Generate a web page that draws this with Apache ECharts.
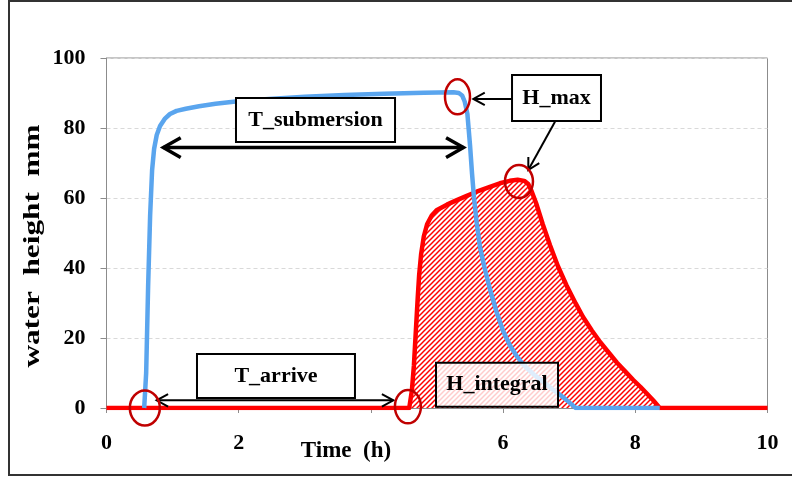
<!DOCTYPE html>
<html><head><meta charset="utf-8">
<script src="https://cdn.jsdelivr.net/npm/echarts@6/dist/echarts.min.js"></script>
<style>html,body{margin:0;padding:0;background:#fff}#c{width:792px;height:477px}</style>
</head><body><div id="c"></div>
<script>
// ---- data ----
const xTicks = [0, 2, 4, 6, 8, 10];
const yTicks = [0, 20, 40, 60, 80, 100];
const blueTime = [0.57,0.60,0.63,0.66,0.69,0.72,0.76,0.81,0.88,0.96,1.06,1.2,1.4,1.65,1.92,2.4,3.0,3.6,4.2,4.8,5.25,5.33,5.38,5.42,5.46,5.50,5.53,5.56,5.60,5.65,5.72,5.80,5.90,6.0,6.1,6.2,6.3,6.45,6.6,6.75,6.9,7.0,7.1,8.37];
const blueHeight = [0,10,35,55,68,74,78,80.6,82.6,84,84.9,85.5,86.2,86.9,87.5,88.2,88.9,89.4,89.8,90.1,90.2,90.0,89.3,87.5,84,75,67,60,53,46,40,34,27.5,22,18,15,12.5,9.8,7.6,5.3,3.2,1.6,0,0];
const redTime = [0,4.58,4.62,4.65,4.68,4.71,4.73,4.76,4.80,4.85,4.92,5.0,5.15,5.3,5.45,5.6,5.8,5.95,6.1,6.22,6.32,6.38,6.43,6.5,6.6,6.71,6.83,6.96,7.1,7.21,7.34,7.47,7.6,7.72,7.85,7.97,8.08,8.17,8.27,8.37,10];
const redHeight = [0,0,5,12,22,32,38,44,49,52.5,55,56.6,58.1,59.4,60.6,61.8,63.2,64.2,64.9,65.2,64.9,64,62,58.5,52.5,46.5,40.5,35,29.8,26,22.2,18.8,15.8,13,10.4,8,6,4.2,2.2,0,0];
const labels = ['T_submersion', 'H_max', 'T_arrive', 'H_integral'];

const FONT = "'Liberation Serif', 'Times New Roman', serif";
const chart = echarts.init(document.getElementById('c'), null, {renderer: 'canvas'});

// hatch pattern: red diagonal stripes on white
const T = 5;
const pc = document.createElement('canvas'); pc.width = T; pc.height = T;
const g = pc.getContext('2d');
g.fillStyle = '#ffffff'; g.fillRect(0, 0, T, T);
g.strokeStyle = '#ff0000'; g.lineWidth = 1.5;
g.beginPath();
g.moveTo(0, T); g.lineTo(T, 0);
g.moveTo(-2, 2); g.lineTo(2, -2);
g.moveTo(T - 2, T + 2); g.lineTo(T + 2, T - 2);
g.stroke();

const zip = (a, b) => a.map((v, i) => [v, b[i]]);

chart.setOption({
  animation: false,
  backgroundColor: '#fff',
  grid: {left: 106.5, right: 24.5, top: 58, bottom: 69, show: true, borderColor: '#8c8c8c', borderWidth: 1},
  xAxis: {
    type: 'value', min: xTicks[0], max: xTicks[xTicks.length - 1], interval: 2,
    axisLine: {show: true, lineStyle: {color: '#8c8c8c'}},
    axisTick: {show: true, length: 5, lineStyle: {color: '#8c8c8c'}},
    axisLabel: {margin: 24, color: '#000', fontFamily: FONT, fontWeight: 'bold', fontSize: 22},
    splitLine: {show: false}
  },
  yAxis: {
    type: 'value', min: yTicks[0], max: yTicks[yTicks.length - 1], interval: 20,
    axisLine: {show: true, lineStyle: {color: '#8c8c8c'}},
    axisTick: {show: true, length: 6, lineStyle: {color: '#8c8c8c'}},
    axisLabel: {margin: 21, color: '#000', fontFamily: FONT, fontWeight: 'bold', fontSize: 22},
    splitLine: {show: true, lineStyle: {color: '#d9d9d9', type: [4, 3], width: 1}}
  },
  series: [
    {type: 'line', data: zip(redTime, redHeight), showSymbol: false, z: 2,
     lineStyle: {color: '#ff0000', width: 4.5, join: 'round'},
     areaStyle: {color: {image: pc, repeat: 'repeat'}, opacity: 1}},
    {type: 'line', data: zip(blueTime, blueHeight), showSymbol: false, z: 3,
     lineStyle: {color: '#5aa5ee', width: 4.5, join: 'round'}}
  ]
});

const P = (x, y) => chart.convertToPixel({gridIndex: 0}, [x, y]);

function box(x0, y0, x1, y1, text, fill) {
  const a = P(x0, y0), b = P(x1, y1);
  return [
    {type: 'rect', z: 10, shape: {x: a[0], y: a[1], width: b[0] - a[0], height: b[1] - a[1]},
     style: {fill: fill || '#fff', stroke: '#000', lineWidth: 2}},
    {type: 'text', z: 11, x: (a[0] + b[0]) / 2, y: (a[1] + b[1]) / 2,
     style: {text: text, fill: '#000', font: "bold 22px " + FONT, align: 'center', verticalAlign: 'middle'}}
  ];
}
function arrow(from, tip, len, half, width, both) {
  const s = P(from[0], from[1]), t = P(tip[0], tip[1]);
  const out = [{type: 'line', z: 12, shape: {x1: s[0], y1: s[1], x2: t[0], y2: t[1]},
    style: {stroke: '#000', lineWidth: width}}];
  const head = (p, q) => {
    const ang = Math.atan2(q[1] - p[1], q[0] - p[0]);
    const pts = [
      [q[0] - len * Math.cos(ang - half), q[1] - len * Math.sin(ang - half)],
      [q[0], q[1]],
      [q[0] - len * Math.cos(ang + half), q[1] - len * Math.sin(ang + half)]
    ];
    out.push({type: 'polyline', z: 12, shape: {points: pts},
      style: {stroke: '#000', lineWidth: width, fill: null, lineJoin: 'miter'}});
  };
  head(s, t);
  if (both) head(t, s);
  return out;
}
function circle(x, y, rx, ry) {
  const c = P(x, y);
  return {type: 'ellipse', z: 13, shape: {cx: c[0], cy: c[1], rx: rx, ry: ry},
    style: {fill: null, stroke: '#c00000', lineWidth: 2.5}};
}

const els = [];
els.push({type: 'rect', z: 20, shape: {x: 9, y: 1, width: 900, height: 474},
  style: {fill: null, stroke: '#333', lineWidth: 2}});
els.push(...box(1.959, 88.57, 4.365, 76.0, labels[0]));
els.push(...arrow([0.86, 74.4], [5.40, 74.4], 20, 0.52, 3.5, true));
els.push(...box(6.135, 95.14, 7.481, 82.0, labels[1]));
els.push(...arrow([6.135, 88.3], [5.55, 88.3], 13, 0.5, 2, false));
els.push(...arrow([6.785, 81.8], [6.381, 68.0], 13, 0.5, 2, false));
els.push(...box(1.369, 15.43, 3.759, 2.86, labels[2]));
els.push(...arrow([0.759, 2.2], [4.339, 2.2], 13, 0.5, 2, true));
els.push(...box(4.985, 12.94, 6.831, 0.37, labels[3], 'rgba(255,255,255,0.8)'));
els.push(circle(0.58, 0, 15, 17.5));
els.push(circle(5.31, 88.9, 12.5, 17.5));
els.push(circle(6.24, 64.7, 14, 16.5));
els.push(circle(4.56, 0.4, 13, 16.7));
// axis titles
els.push({type: 'text', z: 14, x: 346, y: 451,
  style: {text: 'Time  (h)', fill: '#000', font: "bold 23px " + FONT, align: 'center', verticalAlign: 'middle',
    backgroundColor: '#fff', padding: [9, 6, 3, 6]}});
els.push({type: 'text', z: 14, x: 33, y: 246, rotation: Math.PI / 2, scaleX: 1.36,
  style: {text: 'water  height  mm', fill: '#000', font: "bold 23px " + FONT, align: 'center', verticalAlign: 'middle'}});

chart.setOption({graphic: {elements: els}});
</script></body></html>
